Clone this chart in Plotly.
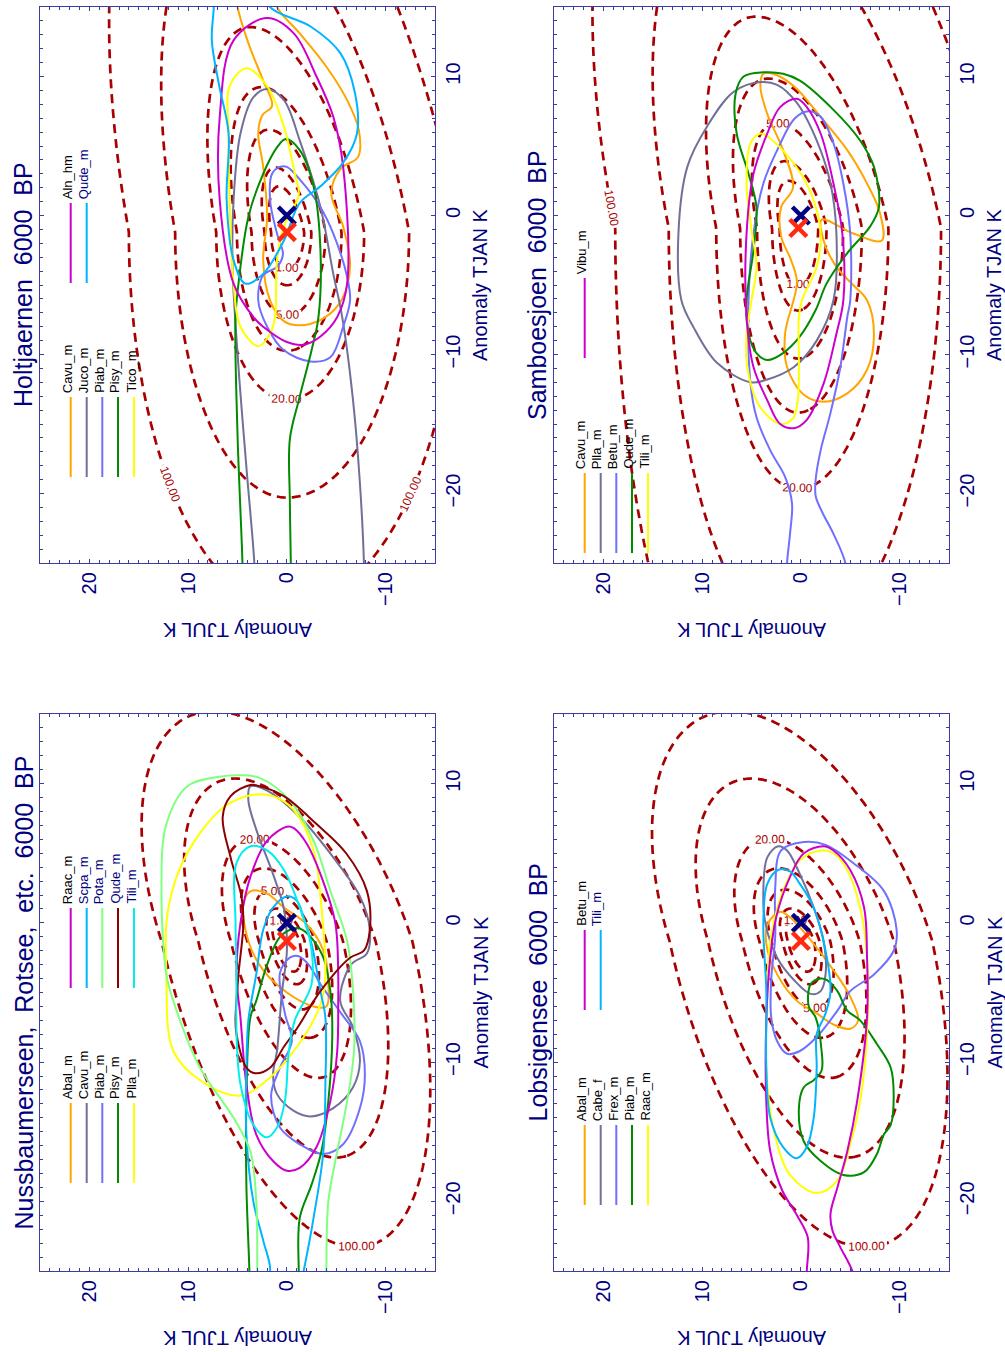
import numpy as np
import plotly.graph_objects as go

# ---------------------------------------------------------------- data
TJUL_TICKS = [20, 10, 0, -10]
TJAN_TICKS = [-20, -10, 0, 10]
TJUL_RANGE = [25, -15]
TJAN_RANGE = [-25, 15]

CHI_LEVELS = [1, 2, 5, 10, 20, 50, 100]
LABELLED_LEVELS = [1, 5, 20, 100]

MODERN_CLIMATE = (0.0, 0.0)          # (TJUL, TJAN) anomaly

# misfit surface per site:
# centre TJUL, centre TJAN, TJUL scale (warm side), TJUL scale (cool side),
# TJAN scale above centre, TJAN scale below centre, tilt above, tilt below
HOLT_SURFACE = [0.0, -1.2, 1.6, 1.75, 3.3, 2.7, 0.25, 0.0]
SAMB_SURFACE = [0.3, -0.9, 1.85, 2.05, 3.4, 4.2, 0.28, 0.0]
NUSS_SURFACE = [0.0, -1.3, 1.27, 1.27, 1.65, 2.2, 0.45, 0.32]
LOBS_SURFACE = [0.0, -1.3, 1.33, 1.33, 1.65, 2.2, 0.43, 0.30]

HOLT_RECON = (0.0, -1.2)
SAMB_RECON = (0.26, -0.9)
NUSS_RECON = (0.0, -1.3)
LOBS_RECON = (0.0, -1.3)

# taxon climate envelopes, (TJUL, TJAN) pairs
HOLT_CAVU = [(5.3, 16.5), (5.0, 15.0), (3.9, 12.4), (2.4, 9.7), (1.5, 7.9), (2.5, 7.2), (2.9, 5.9),
             (2.4, 3.5), (2.0, -0.1), (2.4, -3.2), (1.7, -6.1), (0.3, -7.6), (-1.2, -7.9), (-3.7, -7.4),
             (-5.6, -6.0), (-6.4, -3.6), (-5.7, -0.8), (-4.5, 1.6), (-5.5, 3.4), (-7.2, 4.2), (-7.3, 6.1),
             (-6.1, 8.3), (-4.0, 10.7), (-1.3, 13.1), (1.0, 15.0), (1.5, 16.5)]
HOLT_JUCO = [(3.3, -26), (3.3, -25), (4.1, -18.1), (4.9, -10.9), (5.5, -3.7), (5.4, 1.1), (4.7, 5.9),
             (3.4, 8.5), (2.0, 9.1), (0.3, 8.3), (-1.3, 5.4), (-3.4, 0.6), (-4.7, -4.2), (-5.6, -7.3),
             (-6.7, -13.3), (-7.4, -19.3), (-7.8, -25), (-7.8, -26)]
HOLT_PIAB = [(0.7, 3.5), (1.5, 3.0), (1.7, 1.1), (1.0, -1.3), (0.4, -2.8), (1.0, -3.7), (2.4, -4.3),
             (2.9, -6.1), (2.0, -8.0), (0.3, -9.7), (-2.4, -10.5), (-4.4, -10.2), (-5.7, -8.0),
             (-6.4, -6.1), (-6.1, -4.4), (-4.7, -1.3), (-3.4, 0.6), (-1.3, 2.6), (0.0, 3.5), (0.7, 3.5)]
HOLT_PISY = [(4.5, -26), (4.5, -25), (5.0, -15.7), (5.2, -7.3), (4.9, -4.9), (3.9, -0.1), (2.4, 3.0),
             (1.0, 4.9), (0.1, 5.5), (-1.3, 4.7), (-2.7, 2.1), (-3.4, -2.5), (-3.2, -7.3), (-2.5, -9.7),
             (-1.2, -13.3), (-0.3, -16.1), (-0.3, -20.5), (-0.4, -25), (-0.4, -26)]
HOLT_TICO = [(4.1, 10.6), (2.0, 9.3), (0.3, 6.4), (-0.8, 3.0), (-1.2, 1.5), (0.3, -0.8), (1.0, -3.2),
             (1.2, -7.3), (1.7, -8.5), (2.9, -9.4), (4.7, -8.0), (5.4, -4.9), (5.8, 1.1), (5.9, 5.9),
             (5.8, 9.3), (4.1, 10.6)]
HOLT_ALN = [(2.0, 14.2), (5.4, 12.6), (6.8, 7.1), (6.8, 1.1), (5.4, -4.9), (3.4, -7.3), (2.4, -8.0),
            (0.0, -9.1), (-1.7, -9.3), (-3.4, -8.7), (-5.1, -7.3), (-6.1, -4.9), (-5.7, 3.5),
            (-4.7, 7.1), (-3.0, 10.0), (-0.7, 13.1), (2.0, 14.2)]
HOLT_QUDE = [(7.4, 16.5), (7.4, 15.0), (7.6, 12.6), (6.9, 9.5), (5.9, 5.9), (6.1, 1.1), (5.4, -3.2),
             (4.2, -4.9), (2.4, -4.2), (0.3, -1.8), (-1.3, 0.9), (-3.4, 2.1), (-5.7, 3.8), (-7.1, 5.9),
             (-6.9, 8.8), (-5.4, 11.7), (-2.4, 13.6), (1.7, 15.0), (2.3, 16.5)]

SAMB_CAVU = [(3.8, 10.2), (4.1, 9.3), (3.4, 7.3), (1.8, 4.7), (0.8, 2.0), (2.0, 0.6), (2.0, -1.5),
             (1.0, -3.2), (0.4, -4.8), (1.6, -8.5), (1.4, -10.9), (-0.3, -12.9), (-2.3, -13.4),
             (-4.7, -12.8), (-6.7, -11.1), (-7.4, -8.5), (-6.7, -6.1), (-5.3, -5.0), (-3.6, -3.7),
             (-2.3, -1.8), (-2.1, -0.3), (-5.3, -1.3), (-8.2, -1.8), (-8.0, 0.2), (-6.7, 2.3),
             (-4.7, 4.7), (-2.0, 7.1), (0.7, 9.3), (2.8, 10.2), (3.8, 10.2)]
SAMB_PLLA = [(4.1, 9.6), (6.8, 8.9), (9.5, 6.4), (11.5, 3.5), (12.4, -1.3), (12.1, -6.1), (10.9, -8.0),
             (8.5, -10.6), (5.1, -12.0), (3.4, -11.8), (0.7, -10.9), (-1.6, -9.0), (-3.3, -6.1),
             (-3.6, -1.3), (-3.0, 2.3), (-1.6, 5.4), (0.4, 8.1), (2.4, 9.4), (4.1, 9.6)]
SAMB_BETU = [(1.4, -26), (1.4, -25), (1.1, -22.9), (0.9, -20.7), (1.6, -18.8), (3.1, -16.9),
             (4.5, -14.5), (5.1, -12.1), (5.3, -6.1), (4.8, -1.3), (3.8, 2.3), (2.4, 4.7), (0.6, 7.0),
             (-0.8, 7.5), (-2.0, 7.1), (-3.3, 5.2), (-4.3, 2.3), (-5.0, -1.3), (-5.0, -6.1),
             (-4.7, -7.3), (-4.0, -10.9), (-3.0, -14.2), (-2.0, -16.9), (-1.5, -19.0), (-1.5, -20.2),
             (-2.2, -21.4), (-3.3, -22.9), (-4.5, -25), (-4.5, -26)]
SAMB_QUDE = [(3.8, 10.3), (5.8, 10.0), (6.6, 8.8), (6.5, 5.9), (5.3, 3.0), (4.5, 0.6), (4.8, -2.5),
             (5.5, -6.1), (5.3, -8.5), (4.5, -9.9), (3.4, -10.4), (1.8, -9.9), (0.1, -8.7),
             (-1.5, -6.8), (-2.6, -4.9), (-4.7, -2.7), (-7.0, -0.8), (-7.9, 0.6), (-7.4, 3.5),
             (-6.0, 5.4), (-3.3, 7.6), (0.1, 9.7), (1.8, 10.2), (3.8, 10.3)]
SAMB_TILI = [(4.1, 5.9), (5.1, 5.2), (5.5, 2.3), (5.0, -1.0), (4.5, -3.7), (5.0, -6.1), (5.5, -8.5),
             (5.4, -11.0), (4.2, -13.7), (2.1, -15.0), (0.8, -14.6), (0.3, -13.2), (0.2, -10.9),
             (0.2, -7.3), (-0.1, -6.1), (-1.6, -3.7), (-2.0, -1.3), (-1.3, 1.1), (0.0, 3.0), (1.6, 4.5),
             (3.4, 5.7), (4.1, 5.9)]
SAMB_VIBU = [(0.4, 8.4), (2.1, 7.8), (3.4, 5.9), (4.8, 3.0), (5.5, -1.3), (5.5, -7.3), (4.8, -10.9),
             (3.4, -13.3), (2.1, -15.0), (0.7, -15.3), (-0.6, -14.7), (-2.3, -12.1), (-3.6, -8.5),
             (-4.3, -6.1), (-4.2, -1.3), (-3.3, 2.3), (-2.0, 5.9), (-0.6, 7.8), (0.4, 8.4)]

NUSS_ABAL = [(3.6, 2.3), (4.4, 1.4), (3.9, -1.3), (2.4, -3.4), (0.0, -5.0), (-2.7, -6.0), (-4.0, -6.0),
             (-4.2, -4.4), (-3.7, -2.0), (-2.0, -0.1), (0.3, 1.1), (2.0, 2.1), (3.6, 2.3)]
NUSS_CAVU = [(3.7, 9.8), (3.9, 8.8), (3.1, 6.7), (1.4, 3.5), (0.3, 1.0), (0.0, -2.0), (0.5, -5.0),
             (1.0, -9.2), (1.4, -10.9), (1.0, -12.3), (-0.7, -13.5), (-2.4, -13.9), (-4.7, -13.3),
             (-6.7, -11.8), (-7.4, -9.9), (-6.7, -7.5), (-5.4, -5.6), (-6.5, -3.0), (-8.1, -2.2),
             (-8.4, -0.5), (-7.4, 1.9), (-4.7, 4.7), (-1.3, 7.6), (2.0, 9.5), (3.7, 9.8)]
NUSS_PIAB = [(-0.3, -2.5), (0.7, -3.6), (0.2, -6.5), (-0.5, -8.5), (0.7, -10.4), (1.6, -12.4),
             (0.7, -14.7), (-1.3, -15.9), (-3.7, -16.6), (-5.7, -15.9), (-7.4, -13.3), (-7.9, -10.9),
             (-7.4, -8.5), (-5.5, -6.5), (-3.5, -4.5), (-2.2, -3.0), (-1.2, -2.4), (-0.3, -2.5)]
NUSS_PISY = [(3.8, -26), (3.8, -25), (4.1, -18.8), (4.1, -12.8), (3.7, -6.8), (3.1, -5.6), (2.0, -3.0),
             (0.7, -1.0), (-0.7, -0.4), (-1.3, -0.4), (-2.4, -1.0), (-3.7, -2.5), (-4.4, -4.9),
             (-4.6, -8.0), (-4.2, -12.8), (-3.5, -16.4), (-2.5, -18.8), (-1.3, -21.2), (-1.2, -25),
             (-1.2, -26)]
NUSS_PLLA = [(3.4, 9.2), (6.4, 8.3), (10.1, 5.0), (12.0, 1.1), (12.2, -3.7), (11.5, -9.2), (8.8, -11.3),
             (4.7, -12.4), (1.7, -11.1), (-0.7, -9.2), (-2.7, -7.0), (-3.6, -5.4), (-3.9, -3.7),
             (-3.5, 1.1), (-2.7, 5.2), (-0.7, 8.1), (1.4, 9.1), (3.4, 9.2)]
NUSS_RAAC = [(0.0, 6.9), (2.0, 5.9), (3.7, 3.3), (4.7, 0.0), (5.1, -3.7), (4.7, -6.8), (4.1, -11.6),
             (3.1, -15.2), (1.4, -17.1), (0.0, -17.8), (-1.3, -17.6), (-3.0, -16.1), (-4.4, -12.8),
             (-5.1, -9.2), (-5.2, -5.6), (-5.2, -3.7), (-4.9, 0.0), (-3.4, 3.5), (-2.0, 5.7),
             (-0.7, 6.8), (0.0, 6.9)]
NUSS_SCPA = [(2.4, -26), (1.7, -25), (2.4, -22.8), (3.4, -20.0), (4.1, -15.2), (4.1, -10.4), (3.9, -7.0),
             (3.1, -3.7), (2.4, -0.5), (1.4, 1.1), (0.0, 1.9), (-1.0, 1.6), (-1.7, 0.4), (-2.5, -1.5),
             (-3.4, -4.9), (-3.9, -6.8), (-3.9, -11.6), (-3.7, -16.4), (-2.7, -21.2), (-1.7, -25),
             (-1.4, -26)]
NUSS_POTA = [(3.0, -26), (3.0, -25), (3.1, -20.0), (3.7, -16.4), (5.4, -14.0), (8.8, -10.4),
             (11.5, -5.6), (12.2, -3.7), (12.7, 2.3), (12.2, 7.1), (10.1, 9.8), (6.8, 10.5), (4.5, 10.6),
             (2.7, 10.4), (-0.3, 8.8), (-2.7, 5.9), (-4.4, 2.3), (-6.1, -1.3), (-6.7, -4.9),
             (-6.8, -9.2), (-6.1, -12.8), (-5.1, -16.4), (-4.2, -20.0), (-4.0, -25), (-4.0, -26)]
NUSS_QUDE = [(3.7, 9.9), (5.7, 9.1), (6.5, 7.6), (5.7, 4.7), (4.6, 1.9), (4.4, 0.0), (4.9, -3.7),
             (5.2, -7.0), (5.1, -8.0), (4.1, -10.4), (3.2, -10.8), (1.7, -10.4), (0.3, -8.9),
             (-1.1, -7.5), (-3.4, -4.9), (-6.4, -2.5), (-7.8, -2.0), (-8.4, -0.5), (-8.1, 2.3),
             (-6.0, 5.0), (-3.0, 7.1), (0.3, 9.1), (2.7, 9.8), (3.7, 9.9)]
NUSS_TILI = [(3.7, 5.5), (5.1, 4.3), (5.2, 0.0), (5.1, -3.7), (5.1, -8.0), (4.7, -11.6), (3.4, -14.5),
             (2.0, -15.4), (1.0, -14.7), (0.2, -12.8), (-0.2, -9.2), (-0.8, -7.0), (-2.5, -4.4),
             (-2.4, -1.5), (-1.3, 1.1), (0.3, 3.8), (2.0, 5.2), (3.7, 5.5)]

LOBS_ABAL = [(2.1, 0.8), (3.3, 0.0), (3.5, -1.5), (2.4, -3.7), (0.4, -5.6), (-1.6, -6.5), (-3.3, -7.3),
             (-5.0, -7.6), (-5.8, -7.0), (-5.0, -5.3), (-3.3, -3.4), (-1.3, -1.5), (1.1, 0.4), (2.1, 0.8)]
LOBS_CABE = [(2.3, 5.5), (3.4, 4.7), (3.8, 2.3), (3.6, 0.0), (2.4, -2.5), (0.7, -4.1), (-1.0, -5.1),
             (-2.0, -4.9), (-2.5, -3.7), (-2.3, -1.3), (-1.3, 1.1), (0.1, 3.5), (1.4, 5.2), (2.3, 5.5)]
LOBS_FREX = [(-0.3, 5.8), (2.0, 5.2), (2.6, 2.5), (2.6, -1.0), (3.0, -4.0), (3.0, -6.8), (2.4, -8.5),
             (1.4, -9.4), (0.1, -9.2), (-1.6, -8.2), (-3.7, -6.3), (-5.0, -4.9), (-7.4, -3.7),
             (-9.4, -2.0), (-9.7, -0.5), (-8.4, 2.3), (-5.3, 4.3), (-2.5, 5.6), (-0.3, 5.8)]
LOBS_PIAB = [(-2.0, -4.0), (-1.0, -4.4), (-0.8, -6.0), (-1.5, -6.8), (-2.1, -9.2), (-2.1, -10.6),
             (-1.3, -11.3), (-0.3, -11.8), (0.2, -13.3), (-0.3, -15.7), (-2.0, -17.1), (-4.3, -18.1),
             (-6.4, -17.9), (-7.7, -16.6), (-8.4, -15.2), (-9.1, -14.5), (-9.4, -12.5), (-9.1, -10.4),
             (-7.7, -8.7), (-6.0, -7.0), (-4.7, -6.3), (-3.7, -4.9), (-2.6, -4.1), (-2.0, -4.0)]
LOBS_RAAC = [(-2.0, 5.2), (0.1, 4.5), (1.8, 2.3), (3.1, -1.3), (3.4, -5.0), (3.5, -10.4), (2.8, -14.7),
             (1.1, -18.1), (-1.6, -19.4), (-3.7, -18.5), (-5.0, -15.9), (-6.0, -12.8), (-6.7, -8.0),
             (-6.7, -2.5), (-6.0, 1.1), (-4.7, 3.8), (-3.3, 5.0), (-2.0, 5.2)]
LOBS_BETU = [(-0.6, -26), (-0.6, -25), (-0.7, -22.6), (0.4, -21.0), (1.9, -19.2), (3.1, -16.4),
             (3.5, -12.8), (3.5, -7.0), (3.1, -2.5), (2.5, 0.4), (1.1, 3.3), (-0.3, 5.0), (-2.3, 5.5),
             (-3.3, 5.2), (-5.0, 3.8), (-6.4, 1.1), (-6.7, -2.5), (-6.7, -6.8), (-5.7, -12.8),
             (-4.7, -16.4), (-3.7, -19.0), (-3.0, -20.9), (-3.2, -22.1), (-4.0, -23.3), (-5.2, -25),
             (-5.4, -26)]
LOBS_TILI = [(2.3, 3.8), (3.4, 2.8), (3.8, 0.0), (3.5, -4.9), (3.5, -10.4), (3.1, -14.0), (1.8, -16.1),
             (0.4, -16.9), (-0.6, -16.1), (-1.3, -14.0), (-1.6, -10.4), (-1.6, -8.0), (-2.5, -6.5),
             (-3.0, -4.9), (-2.5, -2.0), (-1.3, 1.1), (0.1, 2.8), (1.1, 3.7), (2.3, 3.8)]

HOLT_TAXA = ["Cavu_m", "Juco_m", "Piab_m", "Pisy_m", "Tico_m", "Aln_hm", "Qude_m"]
SAMB_TAXA = ["Cavu_m", "Plla_m", "Betu_m", "Qude_m", "Tili_m", "Vibu_m"]
NUSS_TAXA = ["Abal_m", "Cavu_m", "Piab_m", "Pisy_m", "Plla_m",
             "Raac_m", "Scpa_m", "Pota_m", "Qude_m", "Tili_m"]
LOBS_TAXA = ["Abal_m", "Cabe_f", "Frex_m", "Piab_m", "Raac_m", "Betu_m", "Tili_m"]

HOLT_CURVES = [HOLT_CAVU, HOLT_JUCO, HOLT_PIAB, HOLT_PISY, HOLT_TICO, HOLT_ALN, HOLT_QUDE]
SAMB_CURVES = [SAMB_CAVU, SAMB_PLLA, SAMB_BETU, SAMB_QUDE, SAMB_TILI, SAMB_VIBU]
NUSS_CURVES = [NUSS_ABAL, NUSS_CAVU, NUSS_PIAB, NUSS_PISY, NUSS_PLLA,
               NUSS_RAAC, NUSS_SCPA, NUSS_POTA, NUSS_QUDE, NUSS_TILI]
LOBS_CURVES = [LOBS_ABAL, LOBS_CABE, LOBS_FREX, LOBS_PIAB, LOBS_RAAC, LOBS_BETU, LOBS_TILI]

NB = "\u00a0\u00a0"
SITE_TITLES = ["Holtjaernen" + NB + "6000" + NB + "BP",
               "Samboesjoen" + NB + "6000" + NB + "BP",
               "Nussbaumerseen," + NB + "Rotsee," + NB + "etc." + NB + "6000" + NB + "BP",
               "Lobsigensee" + NB + "6000" + NB + "BP"]

# ---------------------------------------------------------------- style
W, H = 1005, 1352
FONT = "Liberation Sans, Arial, sans-serif"
NAVY = "#000080"
FRAME = "#3c3ca0"
CHI_RED = "#a80000"
PALETTE = ["#ffa500", "#70709a", "#7070ff", "#008b00", "#ffff00",
           "#cc00cc", "#00b4ff", "#80ff80", "#8b0000", "#00eeee"]

# panel boxes in page pixels: left, top, right, bottom
BOXES = [(40, 7, 435, 563), (554, 7, 949, 563), (40, 714, 435, 1271), (554, 714, 949, 1271)]
# legend line tops (column 1, column 2) measured from the panel top
LEGEND_TOPS = [(390, 196), (466, 271), (389, 194), (411, 216)]
LEGEND_X = [30.7, 46.7, 62.3, 78.0, 94.0]
LEGEND_LEN = 80

SITES = [
    (SITE_TITLES[0], HOLT_TAXA, HOLT_CURVES, HOLT_SURFACE, HOLT_RECON),
    (SITE_TITLES[1], SAMB_TAXA, SAMB_CURVES, SAMB_SURFACE, SAMB_RECON),
    (SITE_TITLES[2], NUSS_TAXA, NUSS_CURVES, NUSS_SURFACE, NUSS_RECON),
    (SITE_TITLES[3], LOBS_TAXA, LOBS_CURVES, LOBS_SURFACE, LOBS_RECON),
]


def misfit(jul, jan, p):
    c_jul, c_jan, su_w, su_c, sv_up, sv_dn, k_up, k_dn = p
    v = jan - c_jan
    u = jul - c_jul - np.where(v > 0, k_up, k_dn) * v
    su = np.where(u > 0, su_w, su_c)
    sv = np.where(v > 0, sv_up, sv_dn)
    return (u / su) ** 2 + (v / sv) ** 2


def px(x):
    return x / W


def py(y):
    return 1 - y / H


fig = go.Figure()
annotations = []
shapes = []

grid_jul = np.arange(-16.0, 26.01, 0.25)
grid_jan = np.arange(-26.0, 16.01, 0.25)
GJ, GT = np.meshgrid(grid_jul, grid_jan)

for i, (title, taxa, curves, surface, recon) in enumerate(SITES):
    n = i + 1
    xa = "x" if n == 1 else f"x{n}"
    ya = "y" if n == 1 else f"y{n}"
    left, top, right, bottom = BOXES[i]

    z = np.round(misfit(GJ, GT, surface), 3).astype(np.float32)
    for lev in CHI_LEVELS:
        fig.add_trace(go.Contour(
            x=grid_jul, y=grid_jan, z=z, xaxis=xa, yaxis=ya,
            autocontour=False,
            contours=dict(start=lev, end=lev, size=1, coloring="none",
                          showlabels=lev in LABELLED_LEVELS, labelformat=".2f",
                          labelfont=dict(size=12, color=CHI_RED, family=FONT)),
            line=dict(color=CHI_RED, width=2.7, dash="9px,6px"),
            showscale=False, hoverinfo="skip"))

    for j, pts in enumerate(curves):
        fig.add_trace(go.Scatter(
            x=[p[0] for p in pts], y=[p[1] for p in pts], xaxis=xa, yaxis=ya,
            mode="lines", line=dict(color=PALETTE[j], width=2, shape="spline", smoothing=1.0),
            hoverinfo="skip"))

    fig.add_trace(go.Scatter(x=[MODERN_CLIMATE[0]], y=[MODERN_CLIMATE[1]], xaxis=xa, yaxis=ya,
                             mode="markers", hoverinfo="skip",
                             marker=dict(symbol="x-thin", size=17, line=dict(width=4.5, color=NAVY))))
    fig.add_trace(go.Scatter(x=[recon[0]], y=[recon[1]], xaxis=xa, yaxis=ya,
                             mode="markers", hoverinfo="skip",
                             marker=dict(symbol="x-thin", size=17, line=dict(width=4.5, color="#ff2a10"))))

    axis_style = dict(showline=True, linecolor=FRAME, linewidth=1.3, mirror="ticks",
                      ticks="inside", ticklen=4, tickwidth=1, tickcolor=FRAME,
                      showgrid=False, zeroline=False, tickangle=-90,
                      tickfont=dict(size=20, color=NAVY, family=FONT),
                      minor=dict(ticks="inside", ticklen=3, tickwidth=1, tickcolor=FRAME,
                                 tickmode="linear", tick0=0, dtick=1, showgrid=False))
    fig.layout[("xaxis" if n == 1 else f"xaxis{n}")] = dict(
        axis_style, domain=[px(left), px(right)], range=TJUL_RANGE, anchor=ya,
        tickmode="array", tickvals=TJUL_TICKS, side="bottom")
    fig.layout[("yaxis" if n == 1 else f"yaxis{n}")] = dict(
        axis_style, domain=[py(bottom), py(top)], range=TJAN_RANGE, anchor=xa,
        tickmode="array", tickvals=TJAN_TICKS, side="right")

    cx = (left + right) / 2
    cy = (top + bottom) / 2
    annotations.append(dict(text=title, x=px(left - 17), y=py(cy), xref="paper", yref="paper",
                            textangle=-90, showarrow=False, xanchor="center", yanchor="middle",
                            font=dict(size=25, color=NAVY, family=FONT)))
    annotations.append(dict(text="Anomaly TJAN K", x=px(right + 45), y=py(cy), xref="paper",
                            yref="paper", textangle=-90, showarrow=False, xanchor="center",
                            yanchor="middle", font=dict(size=20, color=NAVY, family=FONT)))
    annotations.append(dict(text="Anomaly TJUL K", x=px(cx), y=py(bottom + 67), xref="paper",
                            yref="paper", textangle=180, showarrow=False, xanchor="center",
                            yanchor="middle", font=dict(size=20, color=NAVY, family=FONT)))

    # two-column legend
    for j, name in enumerate(taxa):
        col, row = divmod(j, 5)
        lx = left + LEGEND_X[row]
        ltop = top + LEGEND_TOPS[i][col]
        shapes.append(dict(type="line", xref="paper", yref="paper",
                           x0=px(lx), x1=px(lx), y0=py(ltop), y1=py(ltop + LEGEND_LEN),
                           line=dict(color=PALETTE[j], width=2)))
        colour = "black" if (col == 0 or row == 0) else NAVY
        annotations.append(dict(text=name, x=px(lx - 3.5), y=py(ltop - 2), xref="paper",
                                yref="paper", textangle=-90, showarrow=False,
                                xanchor="center", yanchor="bottom",
                                font=dict(size=13, color=colour, family=FONT)))

fig.update_layout(width=W, height=H, margin=dict(l=0, r=0, t=0, b=0),
                  paper_bgcolor="white", plot_bgcolor="white", showlegend=False,
                  annotations=annotations, shapes=shapes)

fig.write_html("out.html")
